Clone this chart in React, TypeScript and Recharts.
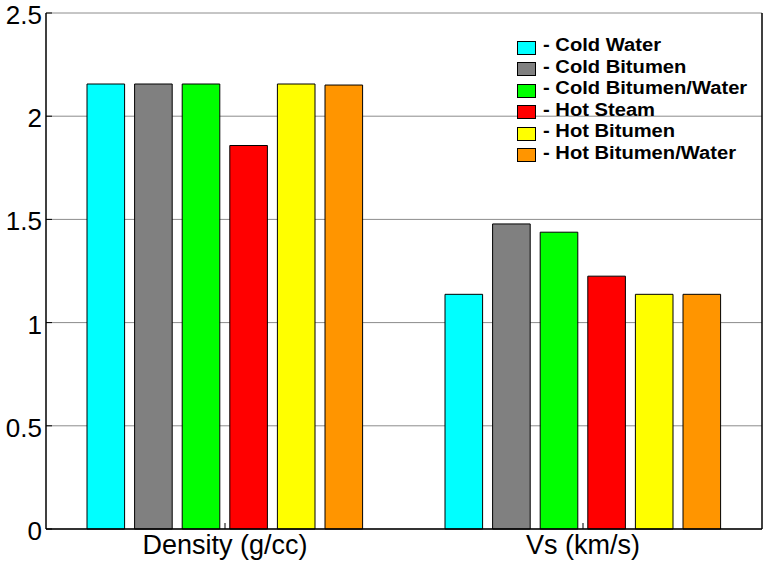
import React from 'react';
import { BarChart, Bar, XAxis, YAxis, CartesianGrid, Legend } from 'recharts';

const categories = ['Density (g/cc)', 'Vs (km/s)'];
const coldWater = [2.156, 1.137];
const coldBitumen = [2.156, 1.478];
const coldBitumenWater = [2.156, 1.438];
const hotSteam = [1.858, 1.225];
const hotBitumen = [2.156, 1.137];
const hotBitumenWater = [2.151, 1.137];
const yTicks = [0, 0.5, 1, 1.5, 2, 2.5];
const yTickLabels = ['0', '0.5', '1', '1.5', '2', '2.5'];

const seriesKeys = ['coldWater', 'coldBitumen', 'coldBitumenWater', 'hotSteam', 'hotBitumen', 'hotBitumenWater'];
const seriesNames = ['Cold Water', 'Cold Bitumen', 'Cold Bitumen/Water', 'Hot Steam', 'Hot Bitumen', 'Hot Bitumen/Water'];
const seriesColors = ['#00FFFF', '#808080', '#00FF00', '#FF0000', '#FFFF00', '#FF9500'];
const seriesValues = [coldWater, coldBitumen, coldBitumenWater, hotSteam, hotBitumen, hotBitumenWater];

const data = categories.map((name, i) => {
  const row: Record<string, string | number> = { name };
  seriesKeys.forEach((k, s) => {
    row[k] = seriesValues[s][i];
  });
  return row;
});

const FONT = '"Liberation Sans", Arial, Helvetica, sans-serif';
const TICK_LEN = 6;
const LEFT_MARGIN_TXT = 4;

const LeftTick = (props: any) => {
  const { x, y, payload } = props;
  const axisX = x + LEFT_MARGIN_TXT;
  const idx = yTicks.indexOf(payload.value);
  return (
    <g>
      <line x1={axisX} x2={axisX + TICK_LEN} y1={y} y2={y} stroke="#000" strokeWidth={1} />
      <text x={x} y={y + 1.8} dy="0.355em" textAnchor="end" fontSize={26} fontFamily={FONT} fill="#000">
        {idx >= 0 ? yTickLabels[idx] : payload.value}
      </text>
    </g>
  );
};

const RightTick = (props: any) => {
  const { x, y } = props;
  return <line x1={x} x2={x - TICK_LEN} y1={y} y2={y} stroke="#000" strokeWidth={1} />;
};

const BottomTick = (props: any) => {
  const { x, y, payload } = props;
  const axisY = y - 6;
  return (
    <g>
      <line x1={x} x2={x} y1={axisY} y2={axisY - TICK_LEN} stroke="#000" strokeWidth={1} />
      <text x={x} y={y} dy="0.71em" textAnchor="middle" fontSize={27} fontFamily={FONT} fill="#000">
        {payload.value}
      </text>
    </g>
  );
};

const TopTick = (props: any) => {
  const { x, y } = props;
  return <line x1={x} x2={x} y1={y} y2={y + TICK_LEN} stroke="#000" strokeWidth={1} />;
};

const renderLegend = () => (
  <div style={{ fontFamily: FONT, fontWeight: 'bold', fontSize: 18, color: '#000' }}>
    {seriesNames.map((n, i) => (
      <div key={n} style={{ display: 'flex', alignItems: 'center', height: 21.5, whiteSpace: 'nowrap' }}>
        <span
          style={{
            display: 'inline-block',
            width: 17,
            height: 12,
            background: seriesColors[i],
            border: '1px solid #000',
            marginRight: 7,
            marginTop: 4,
            flex: '0 0 auto',
          }}
        />
        <span style={{ display: 'inline-block', transform: 'scaleX(1.12)', transformOrigin: 'left center' }}>
          - {n}
        </span>
      </div>
    ))}
  </div>
);

export default function App() {
  return (
    <div style={{ position: 'absolute', left: 0, top: 0, width: 765, height: 564, background: '#fff' }}>
      <BarChart
        width={765}
        height={564}
        data={data}
        margin={{ top: 13, right: 0, bottom: 0, left: 0 }}
        barSize={37.6}
        barGap={10}
      >
        <CartesianGrid horizontal vertical={false} stroke="#8c8c8c" strokeWidth={1} />
        <XAxis
          dataKey="name"
          height={35}
          tickLine={false}
          tickSize={0}
          tickMargin={6}
          axisLine={{ stroke: '#000', strokeWidth: 1.5 }}
          tick={<BottomTick />}
          interval={0}
        />
        <XAxis
          xAxisId="top"
          dataKey="name"
          orientation="top"
          height={0}
          tickLine={false}
          tickSize={0}
          tickMargin={0}
          axisLine={{ stroke: '#000', strokeWidth: 1.5 }}
          tick={<TopTick />}
          interval={0}
        />
        <YAxis
          width={46}
          domain={[0, 2.5]}
          ticks={yTicks}
          tickLine={false}
          tickSize={0}
          tickMargin={LEFT_MARGIN_TXT}
          axisLine={{ stroke: '#000', strokeWidth: 1.5 }}
          tick={<LeftTick />}
          interval={0}
        />
        <YAxis
          yAxisId="right"
          orientation="right"
          width={3}
          domain={[0, 2.5]}
          ticks={yTicks}
          tickLine={false}
          tickSize={0}
          tickMargin={0}
          axisLine={{ stroke: '#000', strokeWidth: 1.5 }}
          tick={<RightTick />}
          interval={0}
        />
        <Legend
          layout="horizontal"
          verticalAlign="middle"
          align="center"
          content={renderLegend}
          wrapperStyle={{ position: 'absolute', top: 35, left: 517, width: 240 }}
        />
        {seriesKeys.map((k, i) => (
          <Bar
            key={k}
            dataKey={k}
            name={seriesNames[i]}
            fill={seriesColors[i]}
            stroke="#000"
            strokeWidth={1}
            isAnimationActive={false}
          />
        ))}
      </BarChart>
    </div>
  );
}
